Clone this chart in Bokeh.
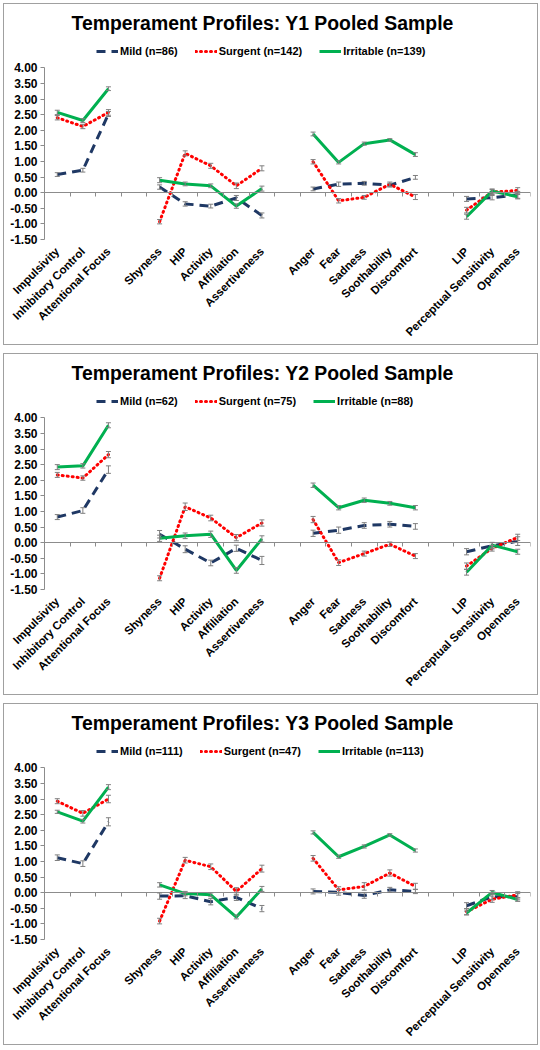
import math
from bokeh.plotting import figure
from bokeh.models import (ColumnDataSource, Whisker, TeeHead, LinearAxis, FixedTicker,
                          Legend, LegendItem, NumeralTickFormatter, Range1d)
from bokeh.layouts import column
from bokeh.embed import file_html
from bokeh.resources import INLINE

# ---------------- data ----------------
groups = [["Impulsivity", "Inhibitory Control", "Attentional Focus"],
          ["Shyness", "HIP", "Activity", "Affiliation", "Assertiveness"],
          ["Anger", "Fear", "Sadness", "Soothability", "Discomfort"],
          ["LIP", "Perceptual Sensitivity", "Openness"]]

y_ticks = [-1.5, -1.0, -0.5, 0.0, 0.5, 1.0, 1.5, 2.0, 2.5, 3.0, 3.5, 4.0]

waves = ["Y1", "Y2", "Y3"]
series_names = ["Mild", "Surgent", "Irritable"]
n_mild = [86, 62, 111]
n_surgent = [142, 75, 47]
n_irritable = [139, 88, 113]

mild_y1 = [0.58, 0.72, 2.52, 0.18, -0.36, -0.43, -0.17, -0.73, 0.12, 0.27, 0.30, 0.24, 0.49, -0.20, -0.16, -0.07]
surgent_y1 = [2.40, 2.12, 2.57, -0.93, 1.26, 0.86, 0.22, 0.78, 0.99, -0.26, -0.15, 0.27, -0.14, -0.56, 0.02, 0.07]
irritable_y1 = [2.57, 2.31, 3.33, 0.40, 0.28, 0.22, -0.43, 0.13, 1.88, 0.97, 1.57, 1.69, 1.22, -0.77, 0.05, -0.13]

mild_y1_se = [0.06, 0.06, 0.08, 0.07, 0.07, 0.06, 0.08, 0.08, 0.06, 0.07, 0.06, 0.06, 0.06, 0.08, 0.07, 0.11]
surgent_y1_se = [0.07, 0.07, 0.09, 0.07, 0.08, 0.08, 0.09, 0.08, 0.07, 0.07, 0.06, 0.07, 0.08, 0.09, 0.08, 0.09]
irritable_y1_se = [0.07, 0.06, 0.06, 0.08, 0.06, 0.06, 0.07, 0.08, 0.06, 0.05, 0.05, 0.04, 0.06, 0.08, 0.07, 0.07]

mild_y2 = [0.82, 1.03, 2.34, 0.27, -0.21, -0.65, -0.18, -0.57, 0.30, 0.40, 0.55, 0.59, 0.52, -0.29, -0.10, 0.05]
surgent_y2 = [2.17, 2.07, 2.82, -1.14, 1.15, 0.79, 0.16, 0.63, 0.74, -0.64, -0.35, -0.05, -0.43, -0.75, -0.18, 0.17]
irritable_y2 = [2.42, 2.46, 3.76, 0.14, 0.22, 0.27, -0.89, 0.12, 1.84, 1.12, 1.36, 1.26, 1.12, -0.95, -0.08, -0.29]

mild_y2_se = [0.08, 0.09, 0.12, 0.12, 0.11, 0.09, 0.10, 0.13, 0.10, 0.10, 0.09, 0.09, 0.09, 0.10, 0.10, 0.14]
surgent_y2_se = [0.08, 0.07, 0.10, 0.08, 0.12, 0.09, 0.10, 0.10, 0.10, 0.09, 0.08, 0.07, 0.08, 0.10, 0.09, 0.10]
irritable_y2_se = [0.08, 0.07, 0.08, 0.10, 0.09, 0.10, 0.09, 0.10, 0.07, 0.07, 0.07, 0.06, 0.07, 0.09, 0.09, 0.08]

mild_y3 = [1.12, 0.93, 2.27, -0.11, -0.10, -0.29, -0.15, -0.51, 0.04, 0.01, -0.09, 0.09, 0.04, -0.42, -0.13, -0.13]
surgent_y3 = [2.93, 2.54, 3.00, -0.91, 1.04, 0.83, 0.04, 0.77, 1.10, 0.09, 0.20, 0.63, 0.20, -0.61, -0.21, -0.07]
irritable_y3 = [2.59, 2.29, 3.38, 0.25, -0.03, -0.07, -0.78, 0.12, 1.93, 1.15, 1.48, 1.85, 1.35, -0.65, 0.01, -0.22]

mild_y3_se = [0.09, 0.09, 0.13, 0.10, 0.09, 0.10, 0.10, 0.10, 0.08, 0.09, 0.09, 0.08, 0.07, 0.10, 0.09, 0.10]
surgent_y3_se = [0.08, 0.09, 0.12, 0.09, 0.09, 0.09, 0.12, 0.11, 0.09, 0.10, 0.12, 0.10, 0.10, 0.10, 0.10, 0.10]
irritable_y3_se = [0.05, 0.06, 0.08, 0.07, 0.07, 0.06, 0.06, 0.08, 0.05, 0.05, 0.05, 0.04, 0.05, 0.06, 0.06, 0.06]

wave_values = {
    "Y1": [mild_y1, surgent_y1, irritable_y1],
    "Y2": [mild_y2, surgent_y2, irritable_y2],
    "Y3": [mild_y3, surgent_y3, irritable_y3],
}
wave_errors = {
    "Y1": [mild_y1_se, surgent_y1_se, irritable_y1_se],
    "Y2": [mild_y2_se, surgent_y2_se, irritable_y2_se],
    "Y3": [mild_y3_se, surgent_y3_se, irritable_y3_se],
}
wave_ns = {w: [n_mild[i], n_surgent[i], n_irritable[i]] for i, w in enumerate(waves)}

# ---------------- styles ----------------
FONT = "Liberation Sans"
AXIS_GRAY = "#8c8c8c"
styles = [
    dict(line_color="#1F3864", line_width=3, line_dash="9 6", line_cap="butt"),
    dict(line_color="#FF0000", line_width=3, line_dash="1 4", line_cap="round"),
    dict(line_color="#00B050", line_width=3, line_dash="solid", line_cap="butt"),
]

# slot layout: each group followed by one empty slot
slot_x = []
group_of = []
pos = 0
for gi, g in enumerate(groups):
    for c in g:
        slot_x.append(pos + 0.5)
        group_of.append(gi)
        pos += 1
    if gi < len(groups) - 1:
        pos += 1
n_slots = pos
categories = [c for g in groups for c in g]


def broken(xs, ys):
    bx, by = [], []
    for i, (x, y) in enumerate(zip(xs, ys)):
        if i > 0 and group_of[i] != group_of[i - 1]:
            bx.append(float("nan"))
            by.append(float("nan"))
        bx.append(x)
        by.append(y)
    return bx, by


def make_panel(wave):
    p = figure(width=535, height=342,
               x_range=Range1d(0, n_slots), y_range=Range1d(-1.5, 4.938),
               output_backend="svg", toolbar_location=None,
               min_border_left=40, min_border_right=9, min_border_top=34, min_border_bottom=107)
    p.styles = {"border": "1px solid #a0a0a0"}
    p.outline_line_color = None
    p.xgrid.grid_line_color = None
    p.ygrid.grid_line_color = None
    p.background_fill_color = "white"
    p.border_fill_color = "white"

    # title
    p.title.text = f"Temperament Profiles: {wave} Pooled Sample"
    p.title.text_font = FONT
    p.title.text_font_size = "19.4px"
    p.title.text_font_style = "bold"
    p.title.text_color = "black"
    p.title.align = "left"
    p.title.offset = 27
    p.title.standoff = 9

    # category axis (labels at bottom)
    xa = p.xaxis[0]
    xa.ticker = FixedTicker(ticks=slot_x)
    xa.major_label_overrides = {x: c for x, c in zip(slot_x, categories)}
    xa.major_label_orientation = math.pi / 4
    xa.major_label_text_font = FONT
    xa.major_label_text_font_size = "11.5px"
    xa.major_label_text_font_style = "bold"
    xa.major_label_text_color = "black"
    xa.axis_line_color = None
    xa.major_tick_line_color = None
    xa.minor_tick_line_color = None
    xa.major_tick_in = 0
    xa.major_tick_out = 0
    xa.major_label_standoff = 10

    # y axis
    ya = p.yaxis[0]
    ya.ticker = FixedTicker(ticks=y_ticks)
    ya.bounds = (-1.5, 4.0)
    ya.formatter = NumeralTickFormatter(format="0.00")
    ya.major_label_text_font = FONT
    ya.major_label_text_font_size = "12px"
    ya.major_label_text_font_style = "bold"
    ya.major_label_text_color = "black"
    ya.axis_line_color = AXIS_GRAY
    ya.major_tick_line_color = AXIS_GRAY
    ya.minor_tick_line_color = None
    ya.major_tick_in = 0
    ya.major_tick_out = 4
    ya.major_label_standoff = 3

    # horizontal axis line crossing at zero
    zero_axis = LinearAxis(fixed_location=0, ticker=FixedTicker(ticks=list(range(0, n_slots + 1))),
                           major_label_text_font_size="0px", major_label_text_color=None,
                           major_label_standoff=0,
                           axis_line_color=AXIS_GRAY, major_tick_line_color=AXIS_GRAY,
                           minor_tick_line_color=None, major_tick_in=0, major_tick_out=4)
    p.add_layout(zero_axis, "below")

    items = []
    vals = wave_values[wave]
    errs = wave_errors[wave]
    ns = wave_ns[wave]
    for name, v, e, n, st in zip(series_names, vals, errs, ns, styles):
        bx, by = broken(slot_x, v)
        r = p.line(bx, by, **st)
        src = ColumnDataSource(dict(x=slot_x,
                                    upper=[a + b for a, b in zip(v, e)],
                                    lower=[a - b for a, b in zip(v, e)]))
        w = Whisker(base="x", upper="upper", lower="lower", source=src,
                    line_color="#7f7f7f", line_width=1, level="overlay",
                    upper_head=TeeHead(size=5, line_color="#7f7f7f", line_width=1),
                    lower_head=TeeHead(size=5, line_color="#7f7f7f", line_width=1))
        p.add_layout(w)
        items.append(LegendItem(label=f"{name} (n={n})", renderers=[r]))

    legend = Legend(items=items, orientation="horizontal", location=(52, 182),
                    glyph_width=22, glyph_height=12, label_standoff=2, spacing=17,
                    padding=0, margin=0, border_line_color=None, background_fill_alpha=0,
                    label_text_font=FONT, label_text_font_size="11px",
                    label_text_font_style="bold", label_text_color="black")
    p.add_layout(legend)
    return p


plots = [make_panel(w) for w in waves]
layout = column(*plots, spacing=8, margin=(3, 0, 0, 3))
open("out.html", "w").write(file_html(layout, INLINE))
